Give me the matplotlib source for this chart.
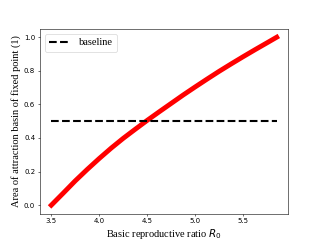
import matplotlib
matplotlib.use("Agg")
import matplotlib.pyplot as plt

r0 = [3.5, 3.625, 3.75, 3.875, 4.0, 4.125, 4.25, 4.375, 4.5, 4.625,
      4.75, 4.875, 5.0, 5.125, 5.25, 5.375, 5.5, 5.625, 5.75, 5.85]
area = [0.0, 0.072, 0.145, 0.213, 0.278, 0.34, 0.398, 0.452, 0.505, 0.556,
        0.606, 0.656, 0.704, 0.751, 0.797, 0.841, 0.884, 0.926, 0.967, 1.0]
baseline_x = [3.5, 5.85]
baseline_y = [0.5, 0.5]

fig, ax = plt.subplots(figsize=(6.4, 4.8), dpi=50)
ax.plot(r0, area, color="red", lw=7)
ax.plot(baseline_x, baseline_y, "k--", lw=3, label="baseline")
ax.set_xlabel("Basic reproductive ratio $R_0$", family="Liberation Serif", fontsize=15)
ax.set_ylabel("Area of attraction basin of fixed point (1)", family="Liberation Serif", fontsize=15)
ax.legend(loc="upper left", prop={"family": "Liberation Serif", "size": 15})
fig.savefig("out.png", dpi=50)
